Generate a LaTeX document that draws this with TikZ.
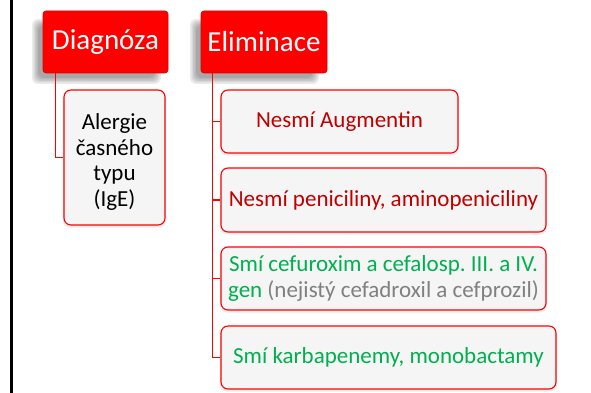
\documentclass[tikz,border=0pt]{standalone}
\usepackage{fontspec}
\setmainfont{Carlito}
\frenchspacing
\definecolor{hdrred}{HTML}{FF0000}
\definecolor{txtred}{HTML}{C00000}
\definecolor{txtgreen}{HTML}{00B050}
\definecolor{txtgray}{HTML}{808080}
\definecolor{boxfill}{HTML}{F5F5F5}
\begin{document}
\begin{tikzpicture}[x=1pt,y=-1pt,
  hdr/.style={draw=hdrred!85!black, line width=0.6pt, fill=hdrred, rounded corners=3pt,
    text=white, font=\fontsize{29}{33}\selectfont, inner sep=0pt},
  item/.style={draw=hdrred, line width=1.1pt, fill=boxfill, rounded corners=7pt,
    font=\fontsize{23}{25.5}\selectfont, inner sep=0pt, align=center},
  conn/.style={draw=hdrred, line width=1.1pt}]
\useasboundingbox (0,0) rectangle (591,393);
\fill[white] (0,0) rectangle (591,393);
% left black rule
\fill[black] (9.5,0) rectangle (12.5,393);
% header shadows
\foreach \dx/\dy/\op in {0/0/0.08,1.5/1.5/0.08,3/3/0.08,4.5/4.5/0.08,6/6/0.08}{
  \fill[black, opacity=\op, rounded corners=6pt] (32+\dx,19+\dy) rectangle (161-\dx,84-\dy);
  \fill[black, opacity=\op, rounded corners=6pt] (190+\dx,19+\dy) rectangle (319-\dx,84-\dy);
}
% light shadows under items
\foreach \a/\b/\c/\d in {64/90/165/225, 221/90/458/153, 221/168/546/232, 221/247/546/310, 221/326/556/389}{
  \fill[black, opacity=0.07, rounded corners=7pt] (\a-1,\b+2) rectangle (\c+1,\d+2.5);
}
\node[hdr, minimum width=125pt, minimum height=62pt] (diag) at (105.5,42) {Diagnóza};
\node[hdr, minimum width=126pt, minimum height=62pt] (elim) at (264,42) {Eliminace};
\node[item, minimum width=101pt, minimum height=135pt] (alg) at (114.5,157.5) {\rule{0pt}{25pt}Alergie\\časného\\typu\\(IgE)};
\node[item, minimum width=237pt, minimum height=63pt, text=txtred] (b1) at (339.5,121.5) {Nesmí Augmentin};
\node[item, minimum width=325pt, minimum height=64pt, text=txtred] (b2) at (383.5,200) {Nesmí peniciliny, aminopeniciliny};
\node[item, minimum width=325pt, minimum height=63pt, text=txtgreen] (b3) at (383.5,278.5) {Smí cefuroxim a cefalosp. III. a IV.\\gen \textcolor{txtgray}{(nejistý cefadroxil a cefprozil)}};
\node[item, minimum width=335pt, minimum height=63pt, text=txtgreen] (b4) at (388.5,357.5) {Smí karbapenemy, monobactamy};
% connectors
\draw[conn] ([xshift=13pt]diag.south west) |- (alg.west);
\draw[conn] ([xshift=12pt]elim.south west) |- (b4.west);
\draw[conn] ([xshift=12pt]elim.south west) |- (b1.west);
\draw[conn] ([xshift=12pt]elim.south west) |- (b2.west);
\draw[conn] ([xshift=12pt]elim.south west) |- (b3.west);
\end{tikzpicture}
\end{document}
